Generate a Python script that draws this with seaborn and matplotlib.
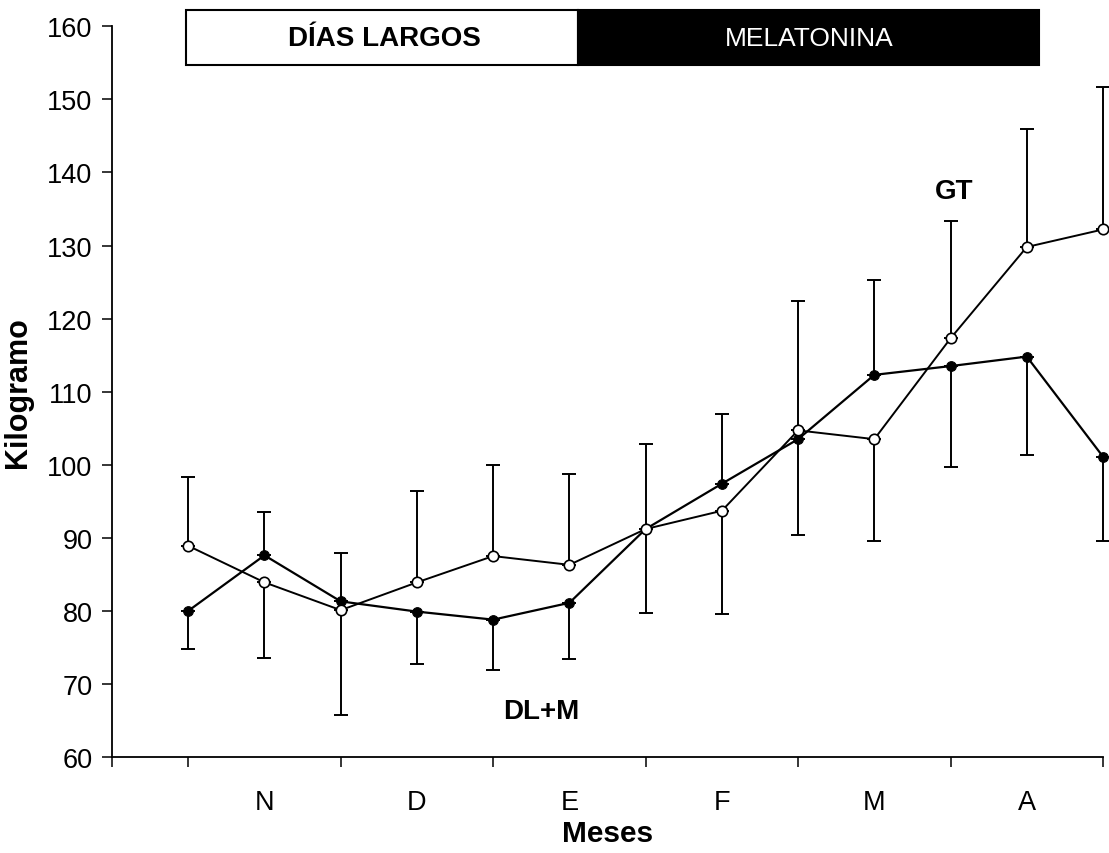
import numpy as np
import pandas as pd
import matplotlib
matplotlib.use("Agg")
import matplotlib.pyplot as plt
from matplotlib.patches import Rectangle
import seaborn as sns

# ---- data ----
positions = [1, 2, 3, 4, 5, 6, 7, 8, 9, 10, 11, 12, 13]
gt_mean = [88.9, 83.9, 80.1, 83.9, 87.5, 86.3, 91.2, 93.7, 104.7, 103.5, 117.3, 129.8, 132.2]
gt_bar_end = [98.3, 73.6, 65.8, 96.4, 100.0, 98.7, 102.8, 79.6, 122.4, 89.5, 133.3, 146.0, 151.7]
dlm_mean = [80.0, 87.6, 81.3, 79.9, 78.8, 81.1, 91.2, 97.4, 103.5, 112.3, 113.5, 114.8, 101.1]
dlm_bar_end = [74.8, 93.6, 87.9, 72.7, 71.9, 73.4, 79.7, 106.9, 90.4, 125.3, 99.7, 101.3, 89.6]
month_pos = [2, 4, 6, 8, 10, 12]
month_labels = ["N", "D", "E", "F", "M", "A"]
y_ticks = [60, 70, 80, 90, 100, 110, 120, 130, 140, 150, 160]
band_labels = ["DÍAS LARGOS", "MELATONINA"]
band_edges = [0.97, 6.11, 12.16]
series_labels = ["GT", "DL+M"]

sns.set_style("ticks")
plt.rcParams['font.family'] = ['Liberation Sans', 'DejaVu Sans']
for k in ["text.color", "axes.labelcolor", "xtick.color", "ytick.color", "axes.edgecolor"]:
    plt.rcParams[k] = "black"

fig = plt.figure(figsize=(11.09, 8.54), dpi=100)
ax = fig.add_axes([0.101, 0.1124, 0.8936, 0.8556])

df = pd.DataFrame({
    "pos": positions * 2,
    "kg": gt_mean + dlm_mean,
    "grupo": [series_labels[0]] * len(positions) + [series_labels[1]] * len(positions),
})

def draw_err(mean, end):
    mean = np.array(mean)
    end = np.array(end)
    lo = np.where(end < mean, mean - end, 0)
    hi = np.where(end > mean, end - mean, 0)
    cont = ax.errorbar(positions, mean, yerr=[lo, hi], fmt="none", ecolor="black",
                       elinewidth=1.4, capsize=5, capthick=1.4, zorder=2)
    for art in cont.get_children():
        art.set_clip_on(False)

draw_err(gt_mean, gt_bar_end)
draw_err(dlm_mean, dlm_bar_end)

sns.lineplot(data=df[df.grupo == series_labels[1]], x="pos", y="kg", ax=ax,
             color="black", linewidth=1.6, marker="o", markersize=7,
             markerfacecolor="black", markeredgecolor="black", zorder=3, legend=False)
sns.lineplot(data=df[df.grupo == series_labels[0]], x="pos", y="kg", ax=ax,
             color="black", linewidth=1.4, marker="o", markersize=7.5,
             markerfacecolor="white", markeredgecolor="black", markeredgewidth=1.2,
             zorder=4, legend=False)
for ln in ax.lines:
    ln.set_clip_on(False)

ax.set_xlim(0, 13)
ax.set_ylim(60, 160)
ax.set_yticks(y_ticks)
ax.set_yticklabels([str(v) for v in y_ticks], fontsize=19.5)
ax.set_xticks([0, 1, 3, 5, 7, 9, 11, 13])
ax.set_xticklabels([])
ax.set_xticks(month_pos, minor=True)
ax.set_xticklabels(month_labels, minor=True, fontsize=19.5)
ax.tick_params(axis="x", which="major", direction="out", length=7, width=1.1)
ax.tick_params(axis="x", which="minor", length=0, pad=23)
ax.tick_params(axis="y", direction="out", length=7, width=1.1, pad=7)
for s in ["top", "right"]:
    ax.spines[s].set_visible(False)
for s in ["left", "bottom"]:
    ax.spines[s].set_linewidth(1.3)
    ax.spines[s].set_color("black")

ax.set_xlabel("Meses", fontsize=21.5, fontweight="bold", labelpad=3)
ax.set_ylabel("Kilogramo", fontsize=22, fontweight="bold", labelpad=10)

# top band
ax.add_patch(Rectangle((band_edges[0], 154.7), band_edges[1] - band_edges[0], 7.5,
                       facecolor="white", edgecolor="black", linewidth=1.5,
                       clip_on=False, zorder=5))
ax.add_patch(Rectangle((band_edges[1], 154.7), band_edges[2] - band_edges[1], 7.5,
                       facecolor="black", edgecolor="black", linewidth=1.5,
                       clip_on=False, zorder=5))
ax.text(3.58, 158.45, band_labels[0], ha="center", va="center", fontsize=20,
        fontweight="bold", color="black", zorder=6, clip_on=False)
ax.text(9.15, 158.45, band_labels[1], ha="center", va="center", fontsize=19,
        color="white", zorder=6, clip_on=False)

ax.text(11.05, 137.4, series_labels[0], ha="center", va="center", fontsize=20, fontweight="bold")
ax.text(5.63, 66.3, series_labels[1], ha="center", va="center", fontsize=20, fontweight="bold")

fig.savefig("out.png", dpi=100)
